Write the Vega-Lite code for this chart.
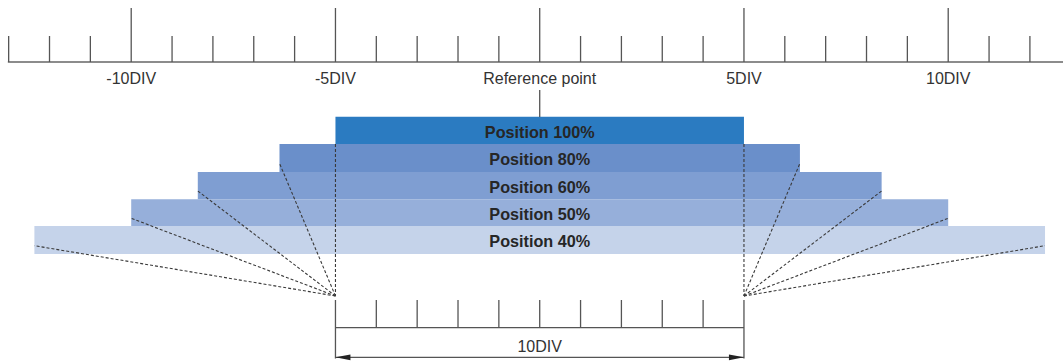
{
  "$schema": "https://vega.github.io/schema/vega-lite/v6.json",
  "width": 1063,
  "height": 362,
  "padding": 0,
  "autosize": {"type": "none"},
  "config": {"view": {"stroke": null}, "font": "Liberation Sans"},
  "datasets": {
    "topline": [{"x": -13.02, "x2": 12.81, "y": 62}],
    "topticks": [
      {"x": -13, "y": 36, "y2": 62}, {"x": -12, "y": 36, "y2": 62}, {"x": -11, "y": 36, "y2": 62},
      {"x": -10, "y": 8, "y2": 62}, {"x": -9, "y": 36, "y2": 62}, {"x": -8, "y": 36, "y2": 62},
      {"x": -7, "y": 36, "y2": 62}, {"x": -6, "y": 36, "y2": 62}, {"x": -5, "y": 8, "y2": 62},
      {"x": -4, "y": 36, "y2": 62}, {"x": -3, "y": 36, "y2": 62}, {"x": -2, "y": 36, "y2": 62},
      {"x": -1, "y": 36, "y2": 62}, {"x": 0, "y": 8, "y2": 62}, {"x": 1, "y": 36, "y2": 62},
      {"x": 2, "y": 36, "y2": 62}, {"x": 3, "y": 36, "y2": 62}, {"x": 4, "y": 36, "y2": 62},
      {"x": 5, "y": 8, "y2": 62}, {"x": 6, "y": 36, "y2": 62}, {"x": 7, "y": 36, "y2": 62},
      {"x": 8, "y": 36, "y2": 62}, {"x": 9, "y": 36, "y2": 62}, {"x": 10, "y": 8, "y2": 62},
      {"x": 11, "y": 36, "y2": 62}, {"x": 12, "y": 36, "y2": 62},
      {"x": 0, "y": 90, "y2": 117}
    ],
    "toplabels": [
      {"x": -10, "y": 84, "label": "-10DIV"},
      {"x": -5, "y": 84, "label": "-5DIV"},
      {"x": 0, "y": 84, "label": "Reference point"},
      {"x": 5, "y": 84, "label": "5DIV"},
      {"x": 10, "y": 84, "label": "10DIV"},
      {"x": 0, "y": 352, "label": "10DIV"}
    ],
    "bars": [
      {"name": "Position 100%", "x": -5, "x2": 5, "y": 116.7, "y2": 144},
      {"name": "Position 80%", "x": -6.37, "x2": 6.37, "y": 144, "y2": 172},
      {"name": "Position 60%", "x": -8.37, "x2": 8.37, "y": 172, "y2": 199.3},
      {"name": "Position 50%", "x": -10, "x2": 10, "y": 199.3, "y2": 226},
      {"name": "Position 40%", "x": -12.37, "x2": 12.37, "y": 226, "y2": 254}
    ],
    "dashes": [
      {"x": -5, "y": 144, "x2": -5, "y2": 296},
      {"x": -5, "y": 296, "x2": -6.37, "y2": 163.3},
      {"x": -5, "y": 296, "x2": -8.37, "y2": 191},
      {"x": -5, "y": 296, "x2": -10, "y2": 218.3},
      {"x": -5, "y": 296, "x2": -12.37, "y2": 245.7},
      {"x": 5, "y": 144, "x2": 5, "y2": 296},
      {"x": 5, "y": 296, "x2": 6.37, "y2": 163.3},
      {"x": 5, "y": 296, "x2": 8.37, "y2": 191},
      {"x": 5, "y": 296, "x2": 10, "y2": 218.3},
      {"x": 5, "y": 296, "x2": 12.37, "y2": 245.7}
    ],
    "bottomrules": [
      {"x": -5, "x2": 5, "y": 327.7, "y2": 327.7},
      {"x": -5, "x2": -5, "y": 300, "y2": 358.5},
      {"x": -4, "x2": -4, "y": 300, "y2": 327.7},
      {"x": -3, "x2": -3, "y": 300, "y2": 327.7},
      {"x": -2, "x2": -2, "y": 300, "y2": 327.7},
      {"x": -1, "x2": -1, "y": 300, "y2": 327.7},
      {"x": 0, "x2": 0, "y": 300, "y2": 327.7},
      {"x": 1, "x2": 1, "y": 300, "y2": 327.7},
      {"x": 2, "x2": 2, "y": 300, "y2": 327.7},
      {"x": 3, "x2": 3, "y": 300, "y2": 327.7},
      {"x": 4, "x2": 4, "y": 300, "y2": 327.7},
      {"x": 5, "x2": 5, "y": 300, "y2": 358.5},
      {"x": -5, "x2": 5, "y": 357.3, "y2": 357.3}
    ],
    "arrows": [
      {"x": -5, "y": 357.3, "dir": "left"},
      {"x": 5, "y": 357.3, "dir": "right"}
    ]
  },
  "layer": [
    {
      "data": {"name": "bars"},
      "mark": {"type": "rect"},
      "encoding": {
        "x": {"field": "x", "type": "quantitative", "scale": {"domain": [-13.212, 12.81], "nice": false, "zero": false}, "axis": null},
        "x2": {"field": "x2"},
        "y": {"field": "y", "type": "quantitative", "scale": {"domain": [0, 362], "reverse": true, "nice": false, "zero": false}, "axis": null},
        "y2": {"field": "y2"},
        "color": {"field": "name", "type": "nominal", "legend": null,
          "scale": {"domain": ["Position 100%", "Position 80%", "Position 60%", "Position 50%", "Position 40%"],
                    "range": ["#2B7BC1", "#6A8FCA", "#7F9ED2", "#96AFDA", "#C5D3EA"]}}
      }
    },
    {
      "data": {"name": "bars"},
      "mark": {"type": "text", "fontWeight": "bold", "fontSize": 16.2, "color": "#262626", "align": "center", "baseline": "alphabetic", "dy": 21},
      "encoding": {
        "x": {"datum": 0, "type": "quantitative"},
        "y": {"field": "y", "type": "quantitative"},
        "text": {"field": "name"}
      }
    },
    {
      "data": {"name": "topline"},
      "mark": {"type": "rule", "color": "#666666", "strokeWidth": 1.5},
      "encoding": {
        "x": {"field": "x", "type": "quantitative"},
        "x2": {"field": "x2"},
        "y": {"field": "y", "type": "quantitative"}
      }
    },
    {
      "data": {"name": "topticks"},
      "mark": {"type": "rule", "color": "#555555", "strokeWidth": 1.3},
      "encoding": {
        "x": {"field": "x", "type": "quantitative"},
        "y": {"field": "y", "type": "quantitative"},
        "y2": {"field": "y2"}
      }
    },
    {
      "data": {"name": "toplabels"},
      "mark": {"type": "text", "fontSize": 16, "color": "#333333", "align": "center", "baseline": "alphabetic"},
      "encoding": {
        "x": {"field": "x", "type": "quantitative"},
        "y": {"field": "y", "type": "quantitative"},
        "text": {"field": "label"}
      }
    },
    {
      "data": {"name": "dashes"},
      "mark": {"type": "rule", "color": "#3a3a3a", "strokeWidth": 1.1, "strokeDash": [3, 2]},
      "encoding": {
        "x": {"field": "x", "type": "quantitative"},
        "x2": {"field": "x2"},
        "y": {"field": "y", "type": "quantitative"},
        "y2": {"field": "y2"}
      }
    },
    {
      "data": {"name": "bottomrules"},
      "mark": {"type": "rule", "color": "#555555", "strokeWidth": 1.3},
      "encoding": {
        "x": {"field": "x", "type": "quantitative"},
        "x2": {"field": "x2"},
        "y": {"field": "y", "type": "quantitative"},
        "y2": {"field": "y2"}
      }
    },
    {
      "data": {"name": "arrows"},
      "mark": {"type": "point", "filled": true, "size": 225, "opacity": 1, "color": "#222222", "strokeWidth": 0},
      "encoding": {
        "x": {"field": "x", "type": "quantitative"},
        "y": {"field": "y", "type": "quantitative"},
        "shape": {"field": "dir", "type": "nominal", "legend": null,
          "scale": {"domain": ["left", "right"], "range": ["M 0 0 L 2 -0.38 L 2 0.38 Z", "M 0 0 L -2 -0.38 L -2 0.38 Z"]}}
      }
    }
  ]
}
